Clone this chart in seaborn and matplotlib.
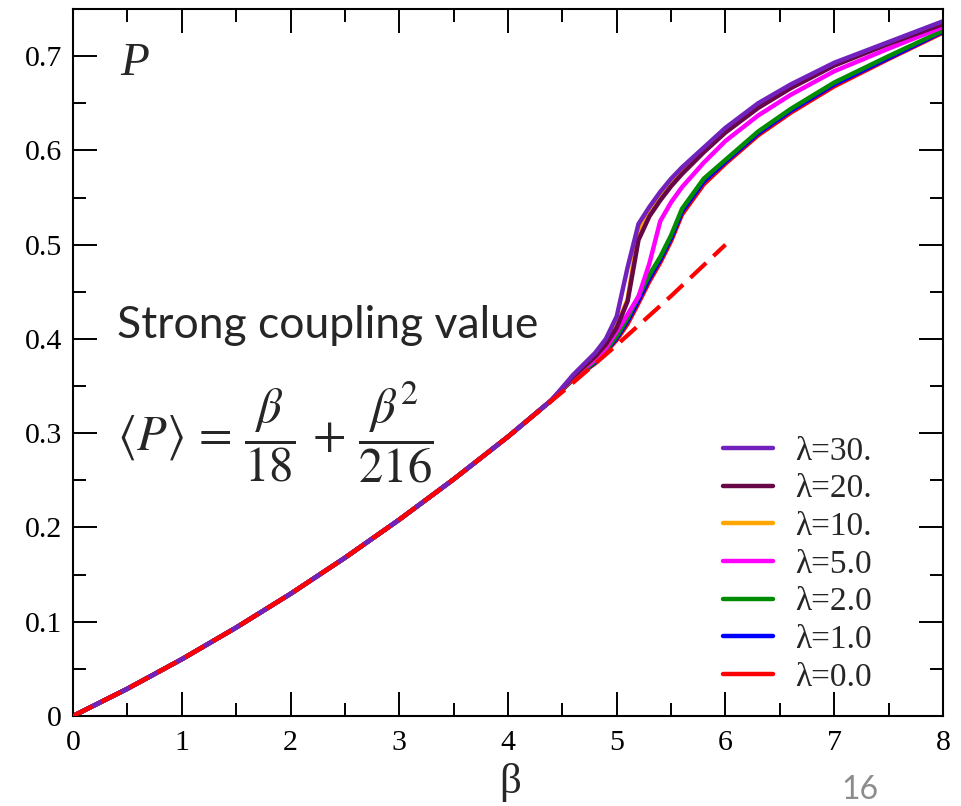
import numpy as np
import pandas as pd
import matplotlib
matplotlib.use("Agg")
import matplotlib.pyplot as plt
from matplotlib.ticker import MultipleLocator
from matplotlib.lines import Line2D
import seaborn as sns

# ---------------- data ----------------
beta = [0.0, 0.5, 1.0, 1.5, 2.0, 2.5, 3.0, 3.5, 4.0, 4.4, 4.6, 4.8, 4.9, 5.0,
        5.1, 5.2, 5.3, 5.4, 5.5, 5.6, 5.8, 6.0, 6.3, 6.6, 7.0, 7.5, 8.0]
low_common = [0.0, 0.0289, 0.0602, 0.0938, 0.1296, 0.1678, 0.2083, 0.2511, 0.2963, 0.335]

p_lam30 = low_common + [0.362, 0.385, 0.400, 0.424, 0.476, 0.522, 0.540, 0.556, 0.570,
                        0.582, 0.603, 0.624, 0.650, 0.670, 0.693, 0.715, 0.737]
p_lam20 = low_common + [0.360, 0.381, 0.394, 0.412, 0.440, 0.505, 0.530, 0.547, 0.562,
                        0.575, 0.598, 0.619, 0.645, 0.666, 0.690, 0.713, 0.734]
p_lam10 = low_common + [0.360, 0.381, 0.394, 0.414, 0.442, 0.515, 0.535, 0.552, 0.566,
                        0.579, 0.601, 0.622, 0.648, 0.669, 0.692, 0.714, 0.735]
p_lam5 = low_common + [0.359, 0.378, 0.390, 0.408, 0.426, 0.445, 0.480, 0.525, 0.545,
                       0.561, 0.587, 0.610, 0.637, 0.659, 0.684, 0.708, 0.731]
p_lam2 = low_common + [0.358, 0.376, 0.388, 0.403, 0.422, 0.445, 0.468, 0.487, 0.510,
                       0.538, 0.570, 0.590, 0.620, 0.644, 0.672, 0.700, 0.727]
p_lam1 = low_common + [0.358, 0.375, 0.387, 0.401, 0.419, 0.441, 0.464, 0.484, 0.507,
                       0.535, 0.567, 0.588, 0.618, 0.642, 0.670, 0.698, 0.726]
p_lam0 = low_common + [0.357, 0.374, 0.386, 0.399, 0.416, 0.438, 0.461, 0.481, 0.504,
                       0.532, 0.564, 0.586, 0.616, 0.640, 0.668, 0.697, 0.725]

labels = ["λ=30.", "λ=20.", "λ=10.", "λ=5.0", "λ=2.0", "λ=1.0", "λ=0.0"]
series = [p_lam30, p_lam20, p_lam10, p_lam5, p_lam2, p_lam1, p_lam0]
colors = ["#7221BC", "#670748", "#FFA500", "#FF00FF", "#008B00", "#0000FF", "#FF0000"]

# strong coupling curve (dashed)
sc_beta = [0.0, 0.5, 1.0, 1.5, 2.0, 2.5, 3.0, 3.5, 4.0, 4.5, 5.0, 5.5, 6.0]
sc_p = [0.0, 0.0289, 0.0602, 0.0938, 0.1296, 0.1678, 0.2083, 0.2511, 0.2963,
        0.3438, 0.3935, 0.4456, 0.5]

x_ticks = [0, 1, 2, 3, 4, 5, 6, 7, 8]
y_ticks = [0, 0.1, 0.2, 0.3, 0.4, 0.5, 0.6, 0.7]
y_ticklabels = ["0", "0.1", "0.2", "0.3", "0.4", "0.5", "0.6", "0.7"]

# ---------------- figure ----------------
sns.set_theme(style="ticks")
plt.rcParams["font.family"] = ["Liberation Serif", "DejaVu Serif"]
plt.rcParams["mathtext.fontset"] = "stix"

W, H = 962, 806
fig = plt.figure(figsize=(W / 100, H / 100), dpi=100)
fig.patch.set_facecolor("white")
ax = fig.add_axes([73 / W, (H - 716) / H, 870 / W, 707 / H])

df = pd.concat([pd.DataFrame({"beta": beta, "P": s, "lam": lab})
                for s, lab in zip(series, labels)], ignore_index=True)

pal = dict(zip(labels, colors))
for lab in labels[::-1]:
    sub = df[df["lam"] == lab]
    sns.lineplot(data=sub, x="beta", y="P", color=pal[lab], lw=3.2, ax=ax,
                 sort=False, estimator=None, legend=False)

sc_df = pd.DataFrame({"beta": sc_beta, "P": sc_p})
sns.lineplot(data=sc_df, x="beta", y="P", color="#FF0000", lw=3.0, ax=ax,
             sort=False, estimator=None, legend=False)
ax.lines[-1].set_dashes([5.2, 2.4])
ax.lines[-1].set_zorder(5)

ax.set_xlim(0, 8)
ax.set_ylim(0, 0.75)
ax.set_xticks(x_ticks)
ax.set_xticklabels([str(t) for t in x_ticks])
ax.set_yticks(y_ticks)
ax.set_yticklabels(y_ticklabels)
ax.xaxis.set_minor_locator(MultipleLocator(0.5))
ax.yaxis.set_minor_locator(MultipleLocator(0.05))
ax.tick_params(which="both", direction="in", top=True, right=True,
               width=1.4, colors="black", labelsize=21.5)
ax.tick_params(which="major", length=17)
ax.tick_params(which="minor", length=9.5)
ax.tick_params(axis="x", which="major", pad=10)
ax.tick_params(axis="y", which="major", pad=8)
for sp in ax.spines.values():
    sp.set_linewidth(1.5)
    sp.set_color("black")
ax.set_xlabel("")
ax.set_ylabel("")

# legend
handles = [Line2D([0], [0], color=c, lw=3.2) for c in colors]
ax.legend(handles, labels, loc="lower left", bbox_to_anchor=(0.747, 0.033),
          frameon=False, fontsize=24, handlelength=1.5, handletextpad=0.66,
          labelspacing=0.215, borderpad=0, borderaxespad=0)

# annotations
fig.text(120 / W, 1 - 64 / H, "P", fontsize=34, style="italic",
         ha="left", va="center")
fig.text(510 / W, 1 - 783 / H, "β", fontsize=31, ha="center", va="center")
fig.text(117 / W, 1 - 325 / H, "Strong coupling value", fontsize=32,
         family=["Lato", "DejaVu Sans"], ha="left", va="center")
fig.text(117 / W, 1 - 432 / H,
         r"$\langle P\rangle \,=\, \dfrac{\beta}{18} \,+\, \dfrac{\beta^2}{216}$",
         fontsize=35, ha="left", va="center")
fig.text(860 / W, 1 - 790 / H, "16", fontsize=23, color="#8c8c8c",
         family=["Lato", "DejaVu Sans"], ha="center", va="center")

fig.savefig("out.png", dpi=100, facecolor="white")
